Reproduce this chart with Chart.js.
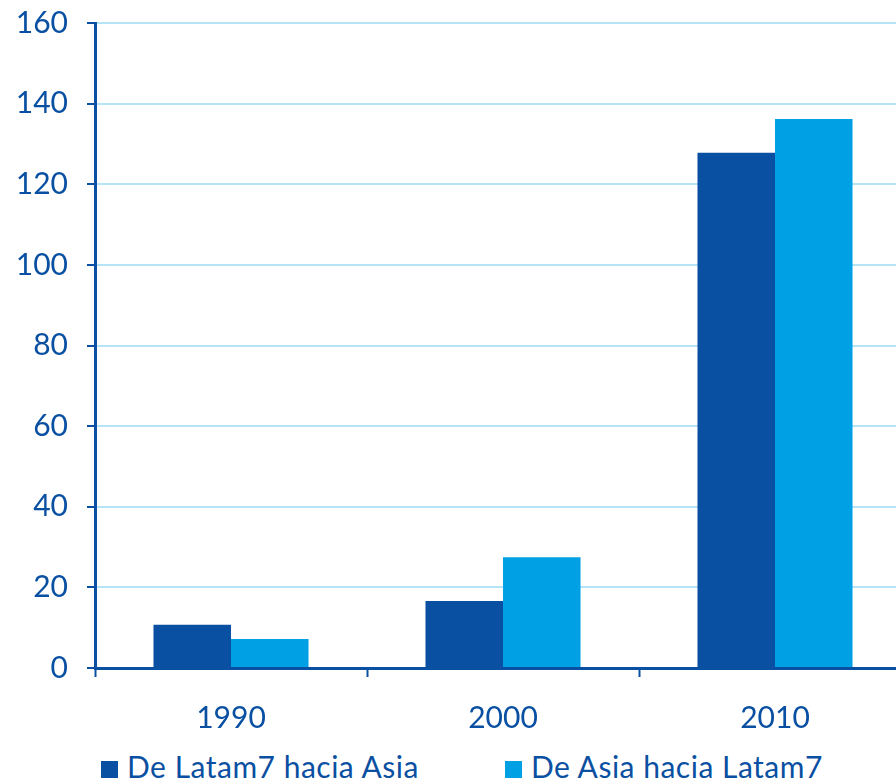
<!DOCTYPE html>
<html>
<head>
<meta charset="utf-8">
<script src="https://cdn.jsdelivr.net/npm/chart.js@4"></script>
<style>
  html, body { margin: 0; padding: 0; overflow: hidden; background: #fff; width: 896px; height: 781px; }
  #wrap { position: absolute; left: 0; top: -14px; width: 911px; height: 759px; }
  .legend { position: absolute; top: 748px; font-family: Lato, sans-serif; font-size: 30px; color: #0a50a2; white-space: nowrap; line-height: 36px; letter-spacing: 0.5px; }
  .legend span.box { display: inline-block; width: 17px; height: 17px; margin-right: 9px; vertical-align: 0px; }
</style>
</head>
<body>
<div id="wrap"><canvas id="chart"></canvas></div>
<div class="legend" style="left:101px"><span class="box" style="background:#0a50a2"></span>De Latam7 hacia Asia</div>
<div class="legend" style="left:505px"><span class="box" style="background:#00a0e4"></span>De Asia hacia Latam7</div>
<script>
var years = ["1990", "2000", "2010"],
    latamToAsia = [10.7, 16.6, 127.8],
    asiaToLatam = [7.2, 27.5, 136.2];

var dark = "#0a50a2",
    light = "#00a0e4";

function drawChart() {
    var ctx = document.getElementById("chart");
    new Chart(ctx, {
        type: 'bar',
        data: {
            labels: years,
            datasets: [{
                label: "De Latam7 hacia Asia",
                data: latamToAsia,
                backgroundColor: dark
            }, {
                label: "De Asia hacia Latam7",
                data: asiaToLatam,
                backgroundColor: light
            }]
        },
        options: {
            responsive: true,
            maintainAspectRatio: false,
            animation: false,
            categoryPercentage: 0.57,
            barPercentage: 1,
            layout: { padding: { top: 9, right: 0, bottom: 0, left: 0 } },
            plugins: {
                legend: { display: false },
                tooltip: { enabled: false }
            },
            scales: {
                x: {
                    grid: {
                        offset: true,
                        drawOnChartArea: false,
                        tickLength: 9,
                        tickColor: dark,
                        tickWidth: 2
                    },
                    border: { color: dark, width: 3 },
                    ticks: {
                        color: dark,
                        padding: 23,
                        font: { family: "Lato", size: 30 }
                    },
                    afterFit: function (scale) { scale.height = 77; }
                },
                y: {
                    min: 0,
                    max: 160,
                    grid: {
                        color: "#b5e4f7",
                        lineWidth: 2,
                        tickLength: 8,
                        tickColor: dark,
                        tickWidth: 2
                    },
                    border: { color: dark, width: 3 },
                    ticks: {
                        stepSize: 20,
                        color: dark,
                        padding: 19,
                        font: { family: "Lato", size: 30 }
                    },
                    afterFit: function (scale) { scale.width = 95; }
                }
            }
        }
    });
}

window.onload = function () {
    drawChart();
};
</script>
</body>
</html>
